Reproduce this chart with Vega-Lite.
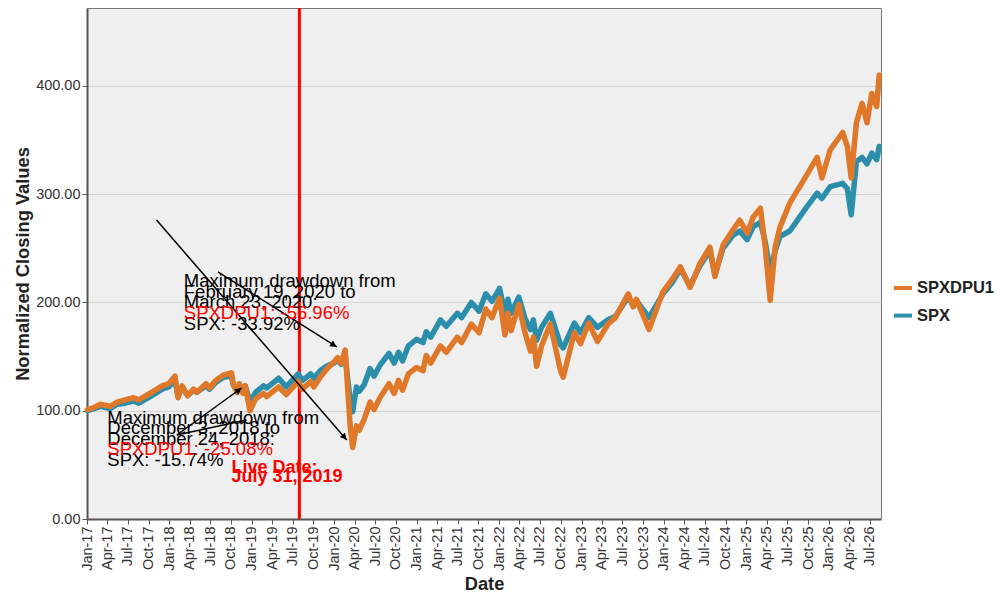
{
  "$schema": "https://vega.github.io/schema/vega-lite/v6.json",
  "width": 794,
  "height": 511,
  "autosize": {"type": "none"},
  "padding": {"left": 87, "top": 8, "right": 119, "bottom": 81},
  "background": "white",
  "config": {
    "font": "Liberation Sans",
    "view": {"fill": "#EFEFEF", "stroke": "#777", "strokeWidth": 1},
    "axis": {
      "labelFont": "Liberation Sans",
      "labelFontSize": 14.5,
      "labelColor": "#333",
      "titleFont": "Liberation Sans",
      "titleFontSize": 18.3,
      "titleFontWeight": "bold",
      "titleColor": "#222",
      "domainColor": "#555",
      "domainWidth": 2,
      "tickColor": "#555",
      "tickSize": 5,
      "labelPadding": 2
    }
  },
  "datasets": {
    "prices": [
      {"date": "2017-01-03", "SPXDPU1": 101, "SPX": 100},
      {"date": "2017-02-01", "SPXDPU1": 103, "SPX": 102},
      {"date": "2017-03-01", "SPXDPU1": 106, "SPX": 104},
      {"date": "2017-04-13", "SPXDPU1": 104, "SPX": 102},
      {"date": "2017-05-15", "SPXDPU1": 108, "SPX": 106},
      {"date": "2017-06-19", "SPXDPU1": 110, "SPX": 107},
      {"date": "2017-07-26", "SPXDPU1": 112, "SPX": 109},
      {"date": "2017-08-18", "SPXDPU1": 110, "SPX": 107},
      {"date": "2017-09-29", "SPXDPU1": 115, "SPX": 112},
      {"date": "2017-10-31", "SPXDPU1": 119, "SPX": 116},
      {"date": "2017-11-30", "SPXDPU1": 123, "SPX": 120},
      {"date": "2017-12-29", "SPXDPU1": 125, "SPX": 122},
      {"date": "2018-01-26", "SPXDPU1": 132, "SPX": 128},
      {"date": "2018-02-08", "SPXDPU1": 112, "SPX": 114},
      {"date": "2018-02-26", "SPXDPU1": 123, "SPX": 122},
      {"date": "2018-03-23", "SPXDPU1": 114, "SPX": 114},
      {"date": "2018-04-18", "SPXDPU1": 120, "SPX": 119},
      {"date": "2018-05-03", "SPXDPU1": 117, "SPX": 117},
      {"date": "2018-06-12", "SPXDPU1": 125, "SPX": 123},
      {"date": "2018-06-28", "SPXDPU1": 121, "SPX": 120},
      {"date": "2018-07-25", "SPXDPU1": 128, "SPX": 126},
      {"date": "2018-08-29", "SPXDPU1": 133, "SPX": 131},
      {"date": "2018-10-03", "SPXDPU1": 135, "SPX": 132},
      {"date": "2018-10-11", "SPXDPU1": 124, "SPX": 124},
      {"date": "2018-10-29", "SPXDPU1": 117, "SPX": 118},
      {"date": "2018-11-07", "SPXDPU1": 125, "SPX": 124},
      {"date": "2018-11-23", "SPXDPU1": 116, "SPX": 117},
      {"date": "2018-12-03", "SPXDPU1": 123, "SPX": 123},
      {"date": "2018-12-24", "SPXDPU1": 100, "SPX": 108},
      {"date": "2019-01-18", "SPXDPU1": 111, "SPX": 117},
      {"date": "2019-02-22", "SPXDPU1": 116, "SPX": 123},
      {"date": "2019-03-08", "SPXDPU1": 113, "SPX": 121},
      {"date": "2019-04-30", "SPXDPU1": 122, "SPX": 130},
      {"date": "2019-06-03", "SPXDPU1": 115, "SPX": 122},
      {"date": "2019-07-26", "SPXDPU1": 127, "SPX": 134},
      {"date": "2019-08-14", "SPXDPU1": 120, "SPX": 128},
      {"date": "2019-09-19", "SPXDPU1": 127, "SPX": 134},
      {"date": "2019-10-03", "SPXDPU1": 122, "SPX": 130},
      {"date": "2019-10-31", "SPXDPU1": 131, "SPX": 137},
      {"date": "2019-11-27", "SPXDPU1": 138, "SPX": 141},
      {"date": "2019-12-31", "SPXDPU1": 145, "SPX": 144},
      {"date": "2020-01-17", "SPXDPU1": 149, "SPX": 147},
      {"date": "2020-01-31", "SPXDPU1": 144, "SPX": 143},
      {"date": "2020-02-19", "SPXDPU1": 156, "SPX": 151},
      {"date": "2020-02-28", "SPXDPU1": 127, "SPX": 133},
      {"date": "2020-03-12", "SPXDPU1": 86, "SPX": 110},
      {"date": "2020-03-23", "SPXDPU1": 66, "SPX": 99},
      {"date": "2020-04-09", "SPXDPU1": 86, "SPX": 122},
      {"date": "2020-04-21", "SPXDPU1": 82, "SPX": 118},
      {"date": "2020-05-13", "SPXDPU1": 92, "SPX": 124},
      {"date": "2020-06-08", "SPXDPU1": 108, "SPX": 139},
      {"date": "2020-06-26", "SPXDPU1": 101, "SPX": 132},
      {"date": "2020-07-22", "SPXDPU1": 112, "SPX": 142},
      {"date": "2020-08-31", "SPXDPU1": 125, "SPX": 153},
      {"date": "2020-09-23", "SPXDPU1": 116, "SPX": 144},
      {"date": "2020-10-12", "SPXDPU1": 128, "SPX": 154},
      {"date": "2020-10-30", "SPXDPU1": 119, "SPX": 146},
      {"date": "2020-11-25", "SPXDPU1": 134, "SPX": 160},
      {"date": "2020-12-31", "SPXDPU1": 140, "SPX": 166},
      {"date": "2021-01-29", "SPXDPU1": 137, "SPX": 163},
      {"date": "2021-02-12", "SPXDPU1": 151, "SPX": 173},
      {"date": "2021-03-04", "SPXDPU1": 144, "SPX": 168},
      {"date": "2021-04-16", "SPXDPU1": 160, "SPX": 184},
      {"date": "2021-05-12", "SPXDPU1": 154, "SPX": 178},
      {"date": "2021-06-30", "SPXDPU1": 168, "SPX": 190},
      {"date": "2021-07-19", "SPXDPU1": 163, "SPX": 186},
      {"date": "2021-08-31", "SPXDPU1": 180, "SPX": 200},
      {"date": "2021-10-04", "SPXDPU1": 172, "SPX": 192},
      {"date": "2021-11-03", "SPXDPU1": 194, "SPX": 208},
      {"date": "2021-11-30", "SPXDPU1": 186, "SPX": 201},
      {"date": "2022-01-03", "SPXDPU1": 204, "SPX": 213},
      {"date": "2022-01-27", "SPXDPU1": 170, "SPX": 190},
      {"date": "2022-02-09", "SPXDPU1": 190, "SPX": 203},
      {"date": "2022-02-23", "SPXDPU1": 174, "SPX": 190},
      {"date": "2022-03-29", "SPXDPU1": 198, "SPX": 205},
      {"date": "2022-04-26", "SPXDPU1": 172, "SPX": 185},
      {"date": "2022-05-20", "SPXDPU1": 155, "SPX": 175},
      {"date": "2022-06-02", "SPXDPU1": 168, "SPX": 184},
      {"date": "2022-06-16", "SPXDPU1": 141, "SPX": 165},
      {"date": "2022-07-08", "SPXDPU1": 160, "SPX": 177},
      {"date": "2022-08-16", "SPXDPU1": 180, "SPX": 190},
      {"date": "2022-09-30", "SPXDPU1": 137, "SPX": 161},
      {"date": "2022-10-12", "SPXDPU1": 131, "SPX": 158},
      {"date": "2022-11-30", "SPXDPU1": 172, "SPX": 181},
      {"date": "2022-12-28", "SPXDPU1": 162, "SPX": 172},
      {"date": "2023-02-02", "SPXDPU1": 181, "SPX": 186},
      {"date": "2023-03-13", "SPXDPU1": 164, "SPX": 177},
      {"date": "2023-04-28", "SPXDPU1": 180, "SPX": 184},
      {"date": "2023-05-31", "SPXDPU1": 186, "SPX": 187},
      {"date": "2023-07-27", "SPXDPU1": 208, "SPX": 205},
      {"date": "2023-08-18", "SPXDPU1": 196, "SPX": 197},
      {"date": "2023-09-01", "SPXDPU1": 203, "SPX": 202},
      {"date": "2023-10-27", "SPXDPU1": 175, "SPX": 186},
      {"date": "2023-12-28", "SPXDPU1": 210, "SPX": 208},
      {"date": "2024-02-09", "SPXDPU1": 222, "SPX": 219},
      {"date": "2024-03-14", "SPXDPU1": 233, "SPX": 231},
      {"date": "2024-04-26", "SPXDPU1": 214, "SPX": 215},
      {"date": "2024-06-09", "SPXDPU1": 236, "SPX": 234},
      {"date": "2024-07-23", "SPXDPU1": 251, "SPX": 248},
      {"date": "2024-08-14", "SPXDPU1": 224, "SPX": 226},
      {"date": "2024-09-19", "SPXDPU1": 253, "SPX": 250},
      {"date": "2024-11-02", "SPXDPU1": 267, "SPX": 262},
      {"date": "2024-12-02", "SPXDPU1": 276, "SPX": 266},
      {"date": "2025-01-04", "SPXDPU1": 264, "SPX": 258},
      {"date": "2025-01-31", "SPXDPU1": 279, "SPX": 270},
      {"date": "2025-03-04", "SPXDPU1": 287, "SPX": 274},
      {"date": "2025-03-25", "SPXDPU1": 251, "SPX": 256},
      {"date": "2025-04-16", "SPXDPU1": 202, "SPX": 229},
      {"date": "2025-05-08", "SPXDPU1": 251, "SPX": 248},
      {"date": "2025-05-30", "SPXDPU1": 270, "SPX": 261},
      {"date": "2025-07-12", "SPXDPU1": 292, "SPX": 266},
      {"date": "2025-08-25", "SPXDPU1": 307, "SPX": 279},
      {"date": "2025-10-01", "SPXDPU1": 320, "SPX": 290},
      {"date": "2025-11-10", "SPXDPU1": 334, "SPX": 301},
      {"date": "2025-12-01", "SPXDPU1": 315, "SPX": 296},
      {"date": "2026-01-07", "SPXDPU1": 341, "SPX": 307},
      {"date": "2026-03-03", "SPXDPU1": 357, "SPX": 310},
      {"date": "2026-03-24", "SPXDPU1": 344, "SPX": 305},
      {"date": "2026-04-10", "SPXDPU1": 315, "SPX": 281},
      {"date": "2026-05-03", "SPXDPU1": 366, "SPX": 330},
      {"date": "2026-05-28", "SPXDPU1": 384, "SPX": 334},
      {"date": "2026-06-19", "SPXDPU1": 366, "SPX": 328},
      {"date": "2026-07-10", "SPXDPU1": 393, "SPX": 338},
      {"date": "2026-08-01", "SPXDPU1": 381, "SPX": 332},
      {"date": "2026-08-12", "SPXDPU1": 410, "SPX": 344}
    ],
    "notes": [
      {"date": "2018-03-06", "value": 214.0, "text": "Maximum drawdown from"},
      {"date": "2018-03-06", "value": 204.2, "text": "February 19, 2020 to"},
      {"date": "2018-03-06", "value": 194.5, "text": "March 23, 2020:"},
      {"date": "2018-03-06", "value": 174.9, "text": "SPX: -33.92%"},
      {"date": "2017-04-01", "value": 87.8, "text": "Maximum drawdown from"},
      {"date": "2017-04-01", "value": 78.2, "text": "December 3, 2018 to"},
      {"date": "2017-04-01", "value": 68.6, "text": "December 24, 2018:"},
      {"date": "2017-04-01", "value": 49.3, "text": "SPX: -15.74%"}
    ],
    "rednotes": [
      {"date": "2018-03-06", "value": 184.7, "text": "SPXDPU1: -56.96%"},
      {"date": "2017-04-01", "value": 58.9, "text": "SPXDPU1: -25.08%"}
    ],
    "live": [
      {"date": "2018-10-03", "value": 42.2, "text": "Live Date:"},
      {"date": "2018-10-03", "value": 34.5, "text": "July 31, 2019"}
    ],
    "arrows": [
      {"date": "2017-11-05", "value": 276.2, "date2": "2020-02-26", "value2": 73.0},
      {"date": "2018-08-04", "value": 228.2, "date2": "2020-01-13", "value2": 158.9},
      {"date": "2018-02-03", "value": 77.6, "date2": "2018-11-17", "value2": 121.0},
      {"date": "2018-02-03", "value": 77.6, "date2": "2018-12-09", "value2": 91.5}
    ]
  },
  "layer": [
    {
      "data": {"values": [{"date": "2019-07-31"}]},
      "mark": {"type": "rule", "color": "#FF0000", "strokeWidth": 3},
      "encoding": {
        "x": {"field": "date", "type": "temporal"}
      }
    },
    {
      "data": {"name": "prices"},
      "transform": [
        {"fold": ["SPXDPU1", "SPX"], "as": ["series", "value"]},
        {"filter": "datum.series === 'SPX'"}
      ],
      "mark": {"type": "line", "strokeWidth": 5.5, "strokeJoin": "round", "strokeCap": "round"},
      "encoding": {
        "x": {
          "field": "date",
          "type": "temporal",
          "title": "Date",
          "scale": {"domain": [{"year": 2017, "month": 1, "date": 1}, {"year": 2026, "month": 8, "date": 20}]},
          "axis": {
            "format": "%b-%y",
            "labelAngle": -90,
            "tickCount": {"interval": "month", "step": 3},
            "grid": false,
            "labelOverlap": false,
            "labelFlush": false,
            "titlePadding": 5
          }
        },
        "y": {
          "field": "value",
          "type": "quantitative",
          "title": "Normalized Closing Values",
          "scale": {"domain": [0, 472], "nice": false},
          "axis": {
            "format": ".2f",
            "values": [0, 100, 200, 300, 400],
            "gridColor": "#D4D4D4",
            "titlePadding": 3
          }
        },
        "color": {
          "field": "series",
          "type": "nominal",
          "scale": {"domain": ["SPXDPU1", "SPX"], "range": ["#E0782A", "#2B8EAA"]},
          "legend": {
            "title": null,
            "orient": "none",
            "legendX": 805,
            "legendY": 269,
            "symbolType": "stroke",
            "symbolSize": 324,
            "symbolStrokeWidth": 4,
            "labelFontSize": 16.5,
            "labelFontWeight": "bold",
            "labelColor": "#222",
            "rowPadding": 7.6,
            "labelOffset": 3,
            "padding": 0
          }
        }
      }
    },
    {
      "data": {"name": "prices"},
      "transform": [
        {"fold": ["SPXDPU1", "SPX"], "as": ["series", "value"]},
        {"filter": "datum.series === 'SPXDPU1'"}
      ],
      "mark": {"type": "line", "strokeWidth": 5.5, "strokeJoin": "round", "strokeCap": "round"},
      "encoding": {
        "x": {"field": "date", "type": "temporal"},
        "y": {"field": "value", "type": "quantitative"},
        "color": {"field": "series", "type": "nominal"}
      }
    },
    {
      "data": {"name": "arrows"},
      "mark": {"type": "rule", "color": "black", "strokeWidth": 1.5},
      "encoding": {
        "x": {"field": "date", "type": "temporal"},
        "y": {"field": "value", "type": "quantitative"},
        "x2": {"field": "date2"},
        "y2": {"field": "value2"}
      }
    },
    {
      "data": {"values": [{"date": "2020-02-26", "value": 73.0}]},
      "mark": {"type": "point", "shape": "M0,0L-0.5,1L0.5,1Z", "filled": true, "color": "black", "opacity": 1, "size": 180, "angle": 139.1},
      "encoding": {
        "x": {"field": "date", "type": "temporal"},
        "y": {"field": "value", "type": "quantitative"}
      }
    },
    {
      "data": {"values": [{"date": "2020-01-13", "value": 158.9}]},
      "mark": {"type": "point", "shape": "M0,0L-0.5,1L0.5,1Z", "filled": true, "color": "black", "opacity": 1, "size": 180, "angle": 121.5},
      "encoding": {
        "x": {"field": "date", "type": "temporal"},
        "y": {"field": "value", "type": "quantitative"}
      }
    },
    {
      "data": {"values": [{"date": "2018-11-17", "value": 121.0}]},
      "mark": {"type": "point", "shape": "M0,0L-0.5,1L0.5,1Z", "filled": true, "color": "black", "opacity": 1, "size": 180, "angle": 54.1},
      "encoding": {
        "x": {"field": "date", "type": "temporal"},
        "y": {"field": "value", "type": "quantitative"}
      }
    },
    {
      "data": {"name": "notes"},
      "mark": {"type": "text", "align": "left", "baseline": "alphabetic", "fontSize": 18.5, "color": "black", "font": "Liberation Sans"},
      "encoding": {
        "x": {"field": "date", "type": "temporal"},
        "y": {"field": "value", "type": "quantitative"},
        "text": {"field": "text"}
      }
    },
    {
      "data": {"name": "rednotes"},
      "mark": {"type": "text", "align": "left", "baseline": "alphabetic", "fontSize": 18.5, "color": "#FF0000", "font": "Liberation Sans"},
      "encoding": {
        "x": {"field": "date", "type": "temporal"},
        "y": {"field": "value", "type": "quantitative"},
        "text": {"field": "text"}
      }
    },
    {
      "data": {"name": "live"},
      "mark": {"type": "text", "align": "left", "baseline": "alphabetic", "fontSize": 18, "fontWeight": "bold", "color": "#FF0000", "font": "Liberation Sans"},
      "encoding": {
        "x": {"field": "date", "type": "temporal"},
        "y": {"field": "value", "type": "quantitative"},
        "text": {"field": "text"}
      }
    }
  ]
}
